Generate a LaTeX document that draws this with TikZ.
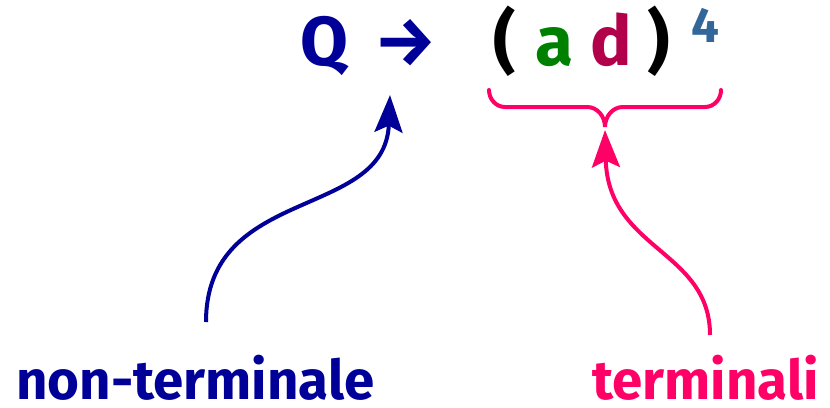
\documentclass[tikz,border=0pt]{standalone}
\usepackage{fontspec}
\setmainfont{Fira Sans}
\usetikzlibrary{arrows.meta}
\definecolor{ntblue}{RGB}{0,0,153}
\definecolor{tpink}{RGB}{255,0,102}
\definecolor{agreen}{RGB}{0,128,0}
\definecolor{dred}{RGB}{179,0,75}
\definecolor{expblue}{RGB}{51,102,153}
\begin{document}
\begin{tikzpicture}[x=0.75pt,y=-0.75pt,
  big/.style={inner sep=0pt,anchor=base west,font=\fontsize{52}{60}\selectfont\bfseries},
  lbl/.style={inner sep=0pt,anchor=base west,font=\fontsize{41}{44}\selectfont\bfseries},
  conn/.style={line width=3pt,-{Stealth[length=28pt,width=21pt,inset=5pt]}}]
\useasboundingbox (0,0) rectangle (830,407);
\node[big,text=ntblue] (q) at (300,65) {Q};
\node[big,text=ntblue] (arr) at (374,65) {→};
\node[big] (lp) at (493,65) {(};
\node[big,text=agreen] (a) at (535,65) {a};
\node[big,text=dred] (d) at (590,65) {d};
\node[big] (rp) at (647,65) {)};
\node[inner sep=0pt,anchor=base west,font=\fontsize{37}{40}\selectfont\bfseries,text=expblue] (four) at (691,42) {4};
\node[lbl,text=ntblue] (nt) at (16,399) {non-terminale};
\node[lbl,text=tpink] (t) at (592,399) {terminali};
\coordinate (ntstart) at (206,322);
\coordinate (ntend) at (390,95);
\coordinate (tstart) at (710,335);
\coordinate (tend) at (605,130);
\coordinate (bl) at (489,90);
\coordinate (br) at (721,90);
\coordinate (cusp) at (605,127);
\draw[tpink,line width=3pt,line cap=round] (bl) to[out=-90,in=180] (505,107) -- (587,107) to[out=0,in=90] (cusp) to[out=90,in=180] (623,107) -- (705,107) to[out=0,in=-90] (br);
\draw[conn,ntblue] (ntstart) .. controls (206,185) and (385,220) .. (ntend);
\draw[conn,tpink] (tstart) .. controls (710,250) and (608,250) .. (tend);
\end{tikzpicture}
\end{document}
